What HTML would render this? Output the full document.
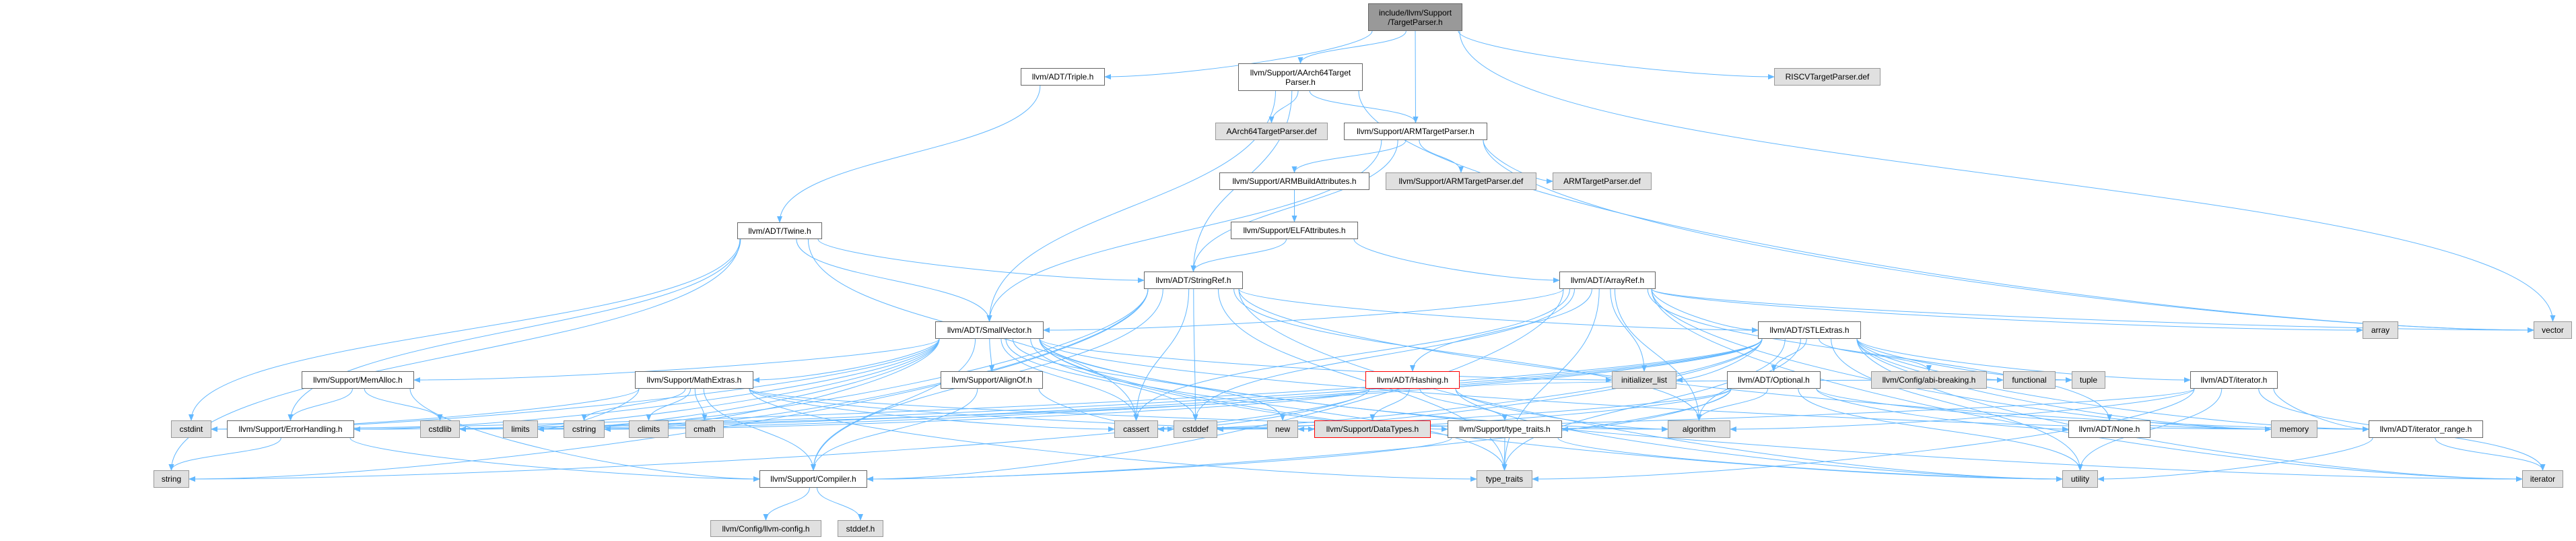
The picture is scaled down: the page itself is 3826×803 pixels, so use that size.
<!DOCTYPE html>
<html><head><meta charset="utf-8">
<style>
html,body{margin:0;padding:0;background:#fff;}
#c{position:relative;width:3826px;height:803px;overflow:hidden;}
svg{position:absolute;left:0;top:0;}
.n{position:absolute;box-sizing:border-box;border:1px solid #666;background:#fff;font-family:"Liberation Sans",sans-serif;font-size:12px;color:#000;display:flex;align-items:center;justify-content:center;text-align:center;line-height:14px;white-space:nowrap;}
.g{background:#e0e0e0;border-color:#999;}
.r{border-color:#f00;}
.m{background:#999;}
</style></head><body><div id="c">
<svg id="s" width="3826" height="803"><defs><marker id="a" markerWidth="10" markerHeight="8" refX="9" refY="4" orient="auto" markerUnits="userSpaceOnUse"><path d="M0,0 L10,4 L0,8 z" fill="#63b8ff"/></marker></defs><g id="e" fill="none" stroke="#63b8ff" stroke-width="1"></g></svg>
</div>
<script>
var N={
TP:[2032,5,2172,46,"include/llvm/Support<br>/TargetParser.h","m"],
TR:[1516,101,1641,127,"llvm/ADT/Triple.h",""],
AA:[1839,94,2024,135,"llvm/Support/AArch64Target<br>Parser.h",""],
AAD:[1805,182,1972,208,"AArch64TargetParser.def","g"],
ARM:[1996,182,2209,208,"llvm/Support/ARMTargetParser.h",""],
RV:[2635,101,2793,127,"RISCVTargetParser.def","g"],
ABA:[1811,256,2034,282,"llvm/Support/ARMBuildAttributes.h",""],
ASD:[2058,256,2282,282,"llvm/Support/ARMTargetParser.def","g"],
AD:[2306,256,2453,282,"ARMTargetParser.def","g"],
ELF:[1828,329,2017,355,"llvm/Support/ELFAttributes.h",""],
TW:[1095,330,1221,355,"llvm/ADT/Twine.h",""],
SR:[1699,403,1846,429,"llvm/ADT/StringRef.h",""],
AR:[2316,403,2459,429,"llvm/ADT/ArrayRef.h",""],
SV:[1389,477,1550,503,"llvm/ADT/SmallVector.h",""],
ST:[2611,477,2764,503,"llvm/ADT/STLExtras.h",""],
ARR:[3509,477,3562,503,"array","g"],
VEC:[3763,477,3820,503,"vector","g"],
MA:[448,551,615,577,"llvm/Support/MemAlloc.h",""],
ME:[943,551,1119,577,"llvm/Support/MathExtras.h",""],
AO:[1397,551,1549,577,"llvm/Support/AlignOf.h",""],
HA:[2028,551,2168,577,"llvm/ADT/Hashing.h","r"],
IL:[2394,551,2490,577,"initializer_list","g"],
OP:[2565,551,2704,577,"llvm/ADT/Optional.h",""],
ABI:[2779,551,2951,577,"llvm/Config/abi-breaking.h","g"],
FN:[2975,551,3053,577,"functional","g"],
TU:[3077,551,3127,577,"tuple","g"],
ITH:[3253,551,3383,577,"llvm/ADT/iterator.h",""],
CI:[254,624,314,650,"cstdint","g"],
EH:[337,624,526,650,"llvm/Support/ErrorHandling.h",""],
CL:[624,624,683,650,"cstdlib","g"],
LI:[747,624,799,650,"limits","g"],
CS:[837,624,898,650,"cstring","g"],
CLI:[934,624,993,650,"climits","g"],
CM:[1018,624,1075,650,"cmath","g"],
CA:[1655,624,1720,650,"cassert","g"],
CD:[1743,624,1808,650,"cstddef","g"],
NEW:[1882,624,1928,650,"new","g"],
DT:[1952,624,2125,650,"llvm/Support/DataTypes.h","g r"],
TTH:[2150,624,2320,650,"llvm/Support/type_traits.h",""],
ALG:[2477,624,2570,650,"algorithm","g"],
NO:[3072,624,3194,650,"llvm/ADT/None.h",""],
MEM:[3373,624,3442,650,"memory","g"],
IR:[3518,624,3688,650,"llvm/ADT/iterator_range.h",""],
STR:[228,698,281,724,"string","g"],
CO:[1128,698,1288,724,"llvm/Support/Compiler.h",""],
TT:[2193,698,2276,724,"type_traits","g"],
UT:[3063,698,3116,724,"utility","g"],
IT:[3746,698,3807,724,"iterator","g"],
LC:[1055,772,1220,797,"llvm/Config/llvm-config.h","g"],
SD:[1244,772,1312,797,"stddef.h","g"]
};
var E={
TP:"TR AA ARM RV VEC",AA:"AAD ARM SR SV VEC",ARM:"ABA ASD AD SR SV VEC",ABA:"ELF",ELF:"SR AR",TR:"TW",
TW:"SV SR EH CA CI STR",
SR:"ST IR CO CA CD CS LI STR TT UT ALG",
AR:"HA NO ST SV CO ALG ARR CA CD IL IT MEM TT VEC",
SV:"CO EH ME MA TTH ALG CA CD CL CS IL IT LI MEM NEW TT UT AO CI",
AO:"CO CD",MA:"CO EH CL",EH:"CO STR",
ME:"CO DT ALG CA CLI CM CI CS LI TT",CO:"LC SD",
HA:"DT EH TTH ALG CA CS STR TU UT",TTH:"CO TT UT",
ST:"OP ABI FN TU ITH IR EH ALG CA CD CI CL IL IT LI MEM TT UT",
OP:"NO CO TTH ALG CA MEM NEW UT",ITH:"IR ALG CD IT TT UT",IR:"IT UT"
};
var c=document.getElementById('c'),g=document.getElementById('e'),h='';
for(var k in N){var n=N[k];var d=document.createElement('div');d.className='n '+n[5];d.style.left=n[0]+'px';d.style.top=n[1]+'px';d.style.width=(n[2]-n[0])+'px';d.style.height=(n[3]-n[1])+'px';d.innerHTML=n[4];c.appendChild(d);}
for(var s in E){var a=N[s];E[s].split(' ').forEach(function(t){var b=N[t];
var cx=(a[0]+a[2])/2,tx=(b[0]+b[2])/2;
var sx=Math.max(a[0]+4,Math.min(a[2]-4,cx+(tx-cx)*0.08));
var sy=a[3],ty=b[1];var dy=ty-sy;
var p;
if(Math.abs(tx-sx)>dy*4){var ex=tx<sx?b[2]:b[0];var ey=(b[1]+b[3])/2;
 sx=tx<sx?a[0]+6:a[2]-6;
 p='M'+sx+','+sy+' C'+sx+','+(sy+dy*0.5)+' '+(ex+(sx-ex)*0.3)+','+ey+' '+ex+','+ey;}
else p='M'+sx+','+sy+' C'+sx+','+(sy+dy*0.5)+' '+tx+','+(ty-dy*0.5)+' '+tx+','+ty;
h+='<path d="'+p+'" marker-end="url(#a)"/>';});}
g.innerHTML=h;
</script>
</body></html>
